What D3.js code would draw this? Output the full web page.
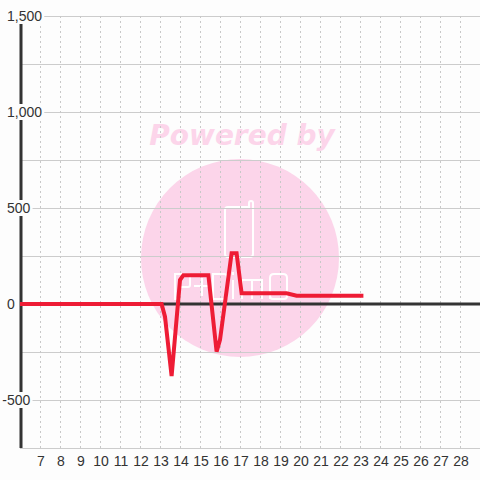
<!DOCTYPE html>
<html><head><meta charset="utf-8">
<script src="https://cdn.jsdelivr.net/npm/d3@7"></script>
<style>html,body{margin:0;padding:0;background:#fdfdfd;}svg{display:block;}</style>
</head><body>
<svg id="chart" width="480" height="480"></svg>
<script>
// Data
const hours  = [6, 13, 13.08, 13.25, 13.58, 14.0, 14.17, 15.42, 15.83, 16.0, 16.58, 16.83, 17.08, 19.33, 19.83, 23.17];
const values = [0, 0, 0, -66, -375, 125, 150, 150, -248, -187, 264, 264, 56, 56, 43, 43];
const xTicks = [7,8,9,10,11,12,13,14,15,16,17,18,19,20,21,22,23,24,25,26,27,28];
const yLabelTicks = [-500, 0, 500, 1000, 1500];
const yGridTicks = [-750, -500, -250, 0, 250, 500, 750, 1000, 1250, 1500];

const svg = d3.select("#chart");
const W = 480, H = 480;
const x = d3.scaleLinear().domain([6, 29]).range([20, 480]);
const y = d3.scaleLinear().domain([-750, 1500]).range([448, 16]);

svg.append("rect").attr("width", W).attr("height", H).attr("fill", "#fdfdfd");

// Watermark
const pink = "#fcd5ea";
const wm = svg.append("g");
wm.append("circle").attr("cx", 240).attr("cy", 258).attr("r", 99).attr("fill", pink);
wm.append("text").attr("x", 242).attr("y", 145).attr("text-anchor", "middle")
  .attr("font-family", "DejaVu Sans").attr("font-weight", "bold").attr("font-style", "italic")
  .attr("font-size", 28).attr("fill", pink).text("Powered by");
const logo = wm.append("g").attr("fill", "none").attr("stroke", "#ffffff").attr("stroke-width", 2);
logo.append("path").attr("d", "M228,207 H249 V203 Q249,201 251,201 Q253,201 253,203 V254 Q253,257 250,257 H228 Q225,257 225,254 V210 Q225,207 228,207 Z");
logo.append("path").attr("d", "M175,299 V274 H188 Q190,274 190,276 V285 Q190,287 188,287 H179 V299 Z");
logo.append("path").attr("d", "M194,286 H210 M202,278 V296");
logo.append("path").attr("d", "M213,299 V274 H224 Q227,274 227,277 V296 Q227,299 224,299 Z");
logo.append("path").attr("d", "M233,299 V280 M233,272 V275");
logo.append("path").attr("d", "M242,299 V280 H252 V299 M252,280 H262 V299");
logo.append("path").attr("d", "M270,299 V278 Q270,274 274,274 H283 Q287,274 287,278 V296 Q287,299 284,299 H273 Q270,299 270,296 Z");

// Horizontal grid
svg.append("g").selectAll("line").data(yGridTicks).join("line")
  .attr("x1", 20).attr("x2", 480)
  .attr("y1", d => Math.round(y(d)) + 0.5).attr("y2", d => Math.round(y(d)) + 0.5)
  .attr("stroke", "#cccccc").attr("stroke-width", 1);

// Vertical dashed grid
svg.append("g").selectAll("line").data(xTicks).join("line")
  .attr("x1", d => Math.round(x(d)) + 0.5).attr("x2", d => Math.round(x(d)) + 0.5)
  .attr("y1", 16).attr("y2", 448)
  .attr("stroke", "#c8c8c8").attr("stroke-width", 1).attr("stroke-dasharray", "2,3");

// Zero axis line
svg.append("line").attr("x1", 20).attr("x2", 480).attr("y1", y(0)).attr("y2", y(0))
  .attr("stroke", "#333333").attr("stroke-width", 3);
// Y axis line
svg.append("line").attr("x1", 21).attr("x2", 21).attr("y1", 16).attr("y2", 448)
  .attr("stroke", "#333333").attr("stroke-width", 3);

// Y labels with background
const fmt = v => d3.format(",")(v).replace("\u2212", "-");
const yl = svg.append("g").selectAll("g").data(yLabelTicks).join("g");
yl.each(function(d) {
  const g = d3.select(this);
  const tx = d < 0 ? 2.3 : 7;
  const t = g.append("text").attr("x", tx).attr("y", y(d)).attr("dy", "0.35em")
    .attr("font-family", "Liberation Sans, Arial, sans-serif").attr("font-size", 14)
    .attr("fill", "#333333").text(fmt(d));
  const bb = t.node().getBBox();
  g.insert("rect", "text").attr("x", bb.x - 2).attr("y", y(d) - 8)
    .attr("width", bb.width + 4).attr("height", 16).attr("fill", "#fdfdfd");
});

// X labels
svg.append("g").selectAll("text").data(xTicks).join("text")
  .attr("x", d => x(d) + 1).attr("y", 466).attr("text-anchor", "middle")
  .attr("font-family", "Liberation Sans, Arial, sans-serif").attr("font-size", 14)
  .attr("fill", "#333333").text(d => d);

// Series line
const pts = hours.map((h, i) => [h, values[i]]);
svg.append("path").datum(pts)
  .attr("d", d3.line().x(d => x(d[0])).y(d => y(d[1])))
  .attr("fill", "none").attr("stroke", "#ee1c35").attr("stroke-width", 4);
</script>
</body></html>
